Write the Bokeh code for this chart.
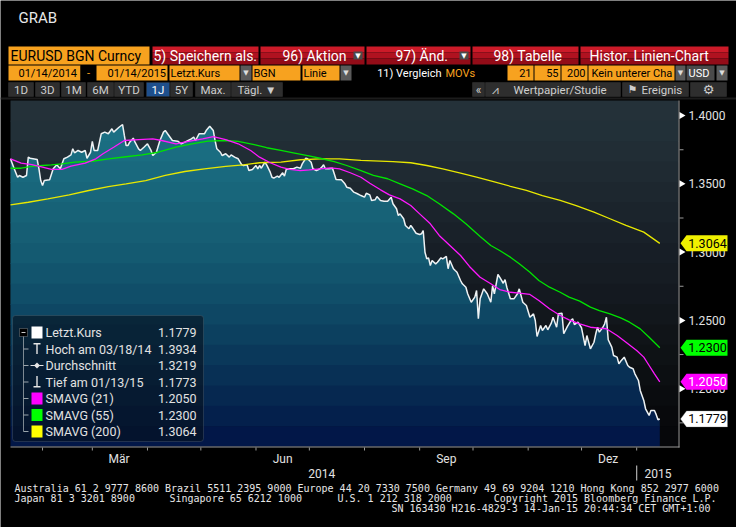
import numpy as np
from bokeh.plotting import figure
from bokeh.models import BoxAnnotation, Label, PolyAnnotation, Range1d
from bokeh.embed import file_html
from bokeh.resources import INLINE

# ---------------- data (days since 14 Jan 2014) ----------------
price_day = [0, 2, 4, 5, 7, 9, 10, 11, 15, 16, 17, 18, 19, 22, 24, 26, 28, 30, 32, 34, 35, 36, 38, 40, 42, 43,
             45, 46, 47, 49, 51, 53, 55, 57, 58, 61, 63, 64, 65, 66, 67, 69, 70, 72, 73, 75, 77, 79, 80, 82, 84,
             86, 87, 89, 91, 94, 96, 98, 101, 103, 104, 106, 109, 110, 112, 114, 115, 116, 118, 119, 121, 123,
             124, 126, 128, 130, 131, 133, 134, 136, 138, 139, 140, 141, 143, 144, 146, 147, 148, 150, 151, 153,
             154, 155, 157, 159, 161, 163, 164, 166, 167, 169, 170, 172, 174, 175, 176, 177, 179, 181, 182, 183,
             186, 188, 189, 191, 193, 195, 197, 199, 200, 202, 203, 205, 206, 208, 210, 212, 214, 215, 217, 218,
             219, 221, 222, 224, 225, 226, 228, 230, 231, 232, 233, 234, 235, 236, 237, 239, 240, 242, 243, 245,
             246, 247, 249, 250, 251, 253, 254, 256, 257, 259, 261, 262, 263, 264, 266, 268, 270, 271, 272, 274,
             275, 277, 278, 279, 281, 283, 285, 286, 288, 290, 292, 294, 295, 296, 298, 299, 301, 302, 304, 305,
             307, 308, 310, 311, 313, 315, 316, 317, 319, 321, 323, 324, 326, 328, 329, 330, 331, 333, 334, 335,
             336, 338, 339, 341, 342, 343, 345, 347, 348, 350, 351, 353, 354, 356, 357, 359, 360, 362, 363, 364, 365]
price = [1.3683, 1.3614, 1.3548, 1.3561, 1.3548, 1.3561, 1.3695, 1.3687, 1.3678, 1.3610, 1.3524, 1.3488, 1.3524,
         1.3529, 1.3610, 1.3639, 1.3610, 1.3683, 1.3695, 1.3712, 1.3756, 1.3727, 1.3744, 1.3731, 1.3744, 1.3687,
         1.3731, 1.3810, 1.3744, 1.3744, 1.3866, 1.3878, 1.3866, 1.3903, 1.3878, 1.3914, 1.3934, 1.3854, 1.3780,
         1.3780, 1.3805, 1.3834, 1.3805, 1.3756, 1.3744, 1.3768, 1.3793, 1.3744, 1.3707, 1.3731, 1.3817, 1.3878,
         1.3890, 1.3854, 1.3817, 1.3812, 1.3793, 1.3805, 1.3824, 1.3841, 1.3817, 1.3866, 1.3866, 1.3890, 1.3922,
         1.3890, 1.3817, 1.3756, 1.3731, 1.3707, 1.3720, 1.3695, 1.3712, 1.3695, 1.3683, 1.3639, 1.3634, 1.3639,
         1.3597, 1.3605, 1.3634, 1.3610, 1.3634, 1.3614, 1.3658, 1.3639, 1.3585, 1.3548, 1.3541, 1.3556, 1.3548,
         1.3581, 1.3556, 1.3605, 1.3610, 1.3610, 1.3622, 1.3614, 1.3646, 1.3687, 1.3683, 1.3658, 1.3610, 1.3597,
         1.3610, 1.3622, 1.3639, 1.3610, 1.3610, 1.3614, 1.3573, 1.3531, 1.3529, 1.3500, 1.3475, 1.3468, 1.3439,
         1.3427, 1.3414, 1.3402, 1.3431, 1.3419, 1.3378, 1.3383, 1.3407, 1.3378, 1.3373, 1.3373, 1.3402, 1.3354,
         1.3317, 1.3268, 1.3280, 1.3244, 1.3195, 1.3171, 1.3195, 1.3178, 1.3138, 1.3129, 1.3134, 1.3158, 1.2999,
         1.2951, 1.2958, 1.2902, 1.2939, 1.2914, 1.2926, 1.2958, 1.2951, 1.2968, 1.2878, 1.2939, 1.2878, 1.2865,
         1.2853, 1.2792, 1.2768, 1.2743, 1.2695, 1.2633, 1.2670, 1.2719, 1.2512, 1.2658, 1.2731, 1.2695, 1.2633,
         1.2755, 1.2695, 1.2836, 1.2816, 1.2772, 1.2799, 1.2743, 1.2658, 1.2658, 1.2695, 1.2731, 1.2633, 1.2609,
         1.2523, 1.2548, 1.2499, 1.2382, 1.2463, 1.2426, 1.2463, 1.2431, 1.2480, 1.2523, 1.2450, 1.2548, 1.2553,
         1.2402, 1.2455, 1.2499, 1.2512, 1.2470, 1.2487, 1.2446, 1.2316, 1.2389, 1.2292, 1.2340, 1.2402, 1.2450,
         1.2414, 1.2450, 1.2475, 1.2523, 1.2358, 1.2304, 1.2243, 1.2231, 1.2182, 1.2201, 1.2231, 1.2170, 1.2157,
         1.2146, 1.2109, 1.2060, 1.1987, 1.1914, 1.1853, 1.1804, 1.1840, 1.1840, 1.1810, 1.1773, 1.1779]

sma21_day = [0, 6, 12, 18, 23, 29, 34, 42, 48, 52, 58, 64, 72, 80, 85, 93, 100, 108, 114, 121, 128, 135, 140, 146,
             152, 157, 163, 168, 174, 180, 185, 191, 197, 202, 208, 213, 219, 225, 230, 236, 241, 247, 253, 258,
             264, 270, 275, 281, 286, 292, 297, 303, 309, 314, 320, 326, 331, 335, 341, 346, 352, 356, 359, 362, 365]
sma21 = [1.3683, 1.3651, 1.3641, 1.3622, 1.3605, 1.3605, 1.3629, 1.3651, 1.3683, 1.3720, 1.3768, 1.3817, 1.3824,
         1.3829, 1.3817, 1.3793, 1.3810, 1.3829, 1.3846, 1.3824, 1.3793, 1.3744, 1.3695, 1.3654, 1.3622, 1.3605,
         1.3597, 1.3602, 1.3610, 1.3617, 1.3610, 1.3581, 1.3548, 1.3504, 1.3456, 1.3419, 1.3390, 1.3341, 1.3280,
         1.3207, 1.3122, 1.3048, 1.2975, 1.2895, 1.2816, 1.2768, 1.2726, 1.2706, 1.2699, 1.2690, 1.2646, 1.2585,
         1.2536, 1.2504, 1.2475, 1.2450, 1.2443, 1.2439, 1.2390, 1.2340, 1.2280, 1.2231, 1.2170, 1.2109, 1.2050]

sma55_day = [0, 6, 12, 18, 23, 29, 36, 46, 55, 65, 74, 83, 93, 102, 111, 121, 128, 137, 144, 152, 159, 167, 174,
             182, 189, 197, 204, 212, 219, 226, 234, 241, 249, 256, 264, 270, 275, 281, 286, 292, 297, 303, 309,
             314, 320, 326, 331, 337, 343, 348, 354, 359, 365]
sma55 = [1.3614, 1.3614, 1.3627, 1.3634, 1.3639, 1.3646, 1.3658, 1.3665, 1.3683, 1.3698, 1.3712, 1.3731, 1.3768,
         1.3793, 1.3812, 1.3817, 1.3810, 1.3786, 1.3764, 1.3744, 1.3727, 1.3707, 1.3687, 1.3663, 1.3634, 1.3597,
         1.3561, 1.3537, 1.3500, 1.3463, 1.3414, 1.3354, 1.3280, 1.3207, 1.3114, 1.3048, 1.3012, 1.2963, 1.2914,
         1.2853, 1.2792, 1.2743, 1.2706, 1.2670, 1.2641, 1.2597, 1.2572, 1.2548, 1.2519, 1.2487, 1.2438, 1.2377,
         1.2300]

sma200_day = [0, 10, 21, 33, 44, 55, 65, 76, 87, 98, 109, 121, 131, 140, 152, 163, 174, 185, 197, 215, 225, 234,
              243, 253, 262, 271, 281, 290, 299, 309, 318, 328, 337, 346, 356, 365]
sma200 = [1.3346, 1.3365, 1.3390, 1.3419, 1.3451, 1.3480, 1.3500, 1.3524, 1.3561, 1.3590, 1.3610, 1.3627, 1.3639,
          1.3654, 1.3658, 1.3676, 1.3683, 1.3683, 1.3671, 1.3663, 1.3654, 1.3634, 1.3610, 1.3578, 1.3548, 1.3517,
          1.3482, 1.3451, 1.3414, 1.3378, 1.3341, 1.3292, 1.3244, 1.3195, 1.3146, 1.3064]

month_start_day = [18, 46, 77, 107, 138, 168, 199, 230, 260, 291, 321, 352]
month_label_day = [61, 153, 245, 336]
month_labels = ["Mär", "Jun", "Sep", "Dez"]
year_label_day = [175, 364]
year_labels = ["2014", "2015"]
year_break_day = [352]
y_ticks = [1.20, 1.25, 1.30, 1.35, 1.40]
y_minor_ticks = [1.175, 1.225, 1.275, 1.325, 1.375]

legend_names = ["Letzt.Kurs", "Hoch am 03/18/14", "Durchschnitt", "Tief am 01/13/15",
                "SMAVG (21)", "SMAVG (55)", "SMAVG (200)"]
legend_values = ["1.1779", "1.3934", "1.3219", "1.1773", "1.2050", "1.2300", "1.3064"]

assert len(price_day) == len(price)
assert len(sma21_day) == len(sma21)
assert len(sma55_day) == len(sma55)
assert len(sma200_day) == len(sma200)

# ---------------- styling / geometry ----------------
bg_colors = ["#243139", "#223038", "#212d35", "#1f2a32", "#1d272f", "#1b242c", "#192129", "#171e26",
             "#161c23", "#141920", "#12171c", "#101418", "#0e1215", "#0c0f12", "#0a0c0f", "#08090c", "#06070a"]
area_colors = ["#1c7185", "#1b6f83", "#1a6d81", "#19697e", "#18667b", "#176277", "#165e74", "#145a71",
               "#12546d", "#104e69", "#0e4764", "#0c405f", "#0a385a", "#083055", "#062850", "#04204c", "#021748"]
ORANGE = "#f7a21f"
TXT = "#e2e2e2"
FONT = "Roboto"
MONO = "DejaVu Sans Mono"

W, H = 736, 527
CL, CR, CT, CB = 10, 678, 100, 446      # chart box on the canvas (px)
PXD = 1.7789                            # px per day
PXU = 1366.0                            # px per price unit
REF_V, REF_Y = 1.40, 115                # price 1.40 sits at canvas y=115
X0 = -CL / PXD
X1 = X0 + W / PXD
Y1 = REF_V + REF_Y / PXU
Y0 = Y1 - H / PXU
YT = Y1 - CT / PXU                      # price at top of chart box
YB = Y1 - CB / PXU                      # price at bottom of chart box

p = figure(width=W, height=H, output_backend="svg", toolbar_location=None,
           x_range=Range1d(X0, X1), y_range=Range1d(Y0, Y1),
           x_axis_type=None, y_axis_type=None,
           min_border=0, min_border_left=0, min_border_right=0, min_border_top=0, min_border_bottom=0,
           background_fill_color="#000000", border_fill_color="#000000", outline_line_color=None)
p.grid.visible = False


def cbox(x0, y0, x1, y1, color, alpha=1.0, line=None, lw=1, radius=0, level="overlay"):
    b = BoxAnnotation(left=x0, right=x1, top=y0, bottom=y1,
                      left_units="canvas", right_units="canvas", top_units="canvas", bottom_units="canvas",
                      fill_color=color, fill_alpha=alpha, line_color=line, line_width=lw, level=level)
    if radius:
        b.border_radius = radius
    p.add_layout(b)


def ctext(x, y, s, color=TXT, size=12, align="left", font=FONT, xunits="canvas", yunits="canvas"):
    p.add_layout(Label(x=x, y=y, x_units=xunits, y_units=yunits, text=s, text_color=color,
                       text_font=font, text_font_size=f"{size}px", text_align=align,
                       text_baseline="middle", level="overlay"))


def cpoly(xs, ys, color, line=None, yunits="canvas"):
    p.add_layout(PolyAnnotation(xs=xs, ys=ys, xs_units="canvas", ys_units=yunits, fill_color=color,
                                fill_alpha=1, line_color=line, level="overlay"))


# banded chart background
n = len(bg_colors)
edges = np.linspace(YT, YB, n + 1)
ov = (YT - YB) * 0.002
for k in range(n):
    p.add_layout(BoxAnnotation(left=CL, right=CR, left_units="canvas", right_units="canvas",
                               top=edges[k], bottom=edges[k + 1] - (ov if k < n - 1 else 0),
                               fill_color=bg_colors[k], fill_alpha=1, line_color=None, level="underlay"))

# banded area under the price line (fine x grid only to render the fill faithfully)
px = np.array(price_day, dtype=float)
py = np.array(price)
gx = np.linspace(px[0], px[-1], 2921)
gy = np.interp(gx, px, py)
for k in range(n):
    t, b = edges[k], edges[k + 1]
    top = np.clip(gy, b, t)
    bot = np.where(gy > b, b - (ov if k < n - 1 else 0), b)
    p.varea(x=gx, y1=bot, y2=top, fill_color=area_colors[k], fill_alpha=1)

p.line(price_day, price, line_color="#eef2f4", line_width=1.5)
p.line(sma200_day, sma200, line_color="#e8e800", line_width=1.3)
p.line(sma55_day, sma55, line_color="#00e400", line_width=1.3)
p.line(sma21_day, sma21, line_color="#ff19ff", line_width=1.3)

# ---------------- axes (drawn on the canvas through the scales) ----------------
AX = "#9a9a9a"
cbox(0, 97, 736, 99, "#1c1c1c", level="guide")          # separator under the toolbar
cbox(CR, CT, CR + 1, CB + 1, AX, level="guide")         # right axis line
cbox(CL, CB, CR + 1, CB + 1, AX, level="guide")         # bottom axis line
for v in y_minor_ticks:
    p.add_layout(BoxAnnotation(left=CR + 1, right=CR + 5, left_units="canvas", right_units="canvas",
                               top=v + 0.5 / PXU, bottom=v - 0.5 / PXU, fill_color=AX, fill_alpha=1,
                               line_color=None, level="guide"))
for v in y_ticks:
    cpoly([CR + 1, CR + 7, CR + 1], [v + 3.5 / PXU, v, v - 3.5 / PXU], "#ffffff", yunits="data")
    ctext(CR + 10, v, f"{v:.4f}", size=12, yunits="data")
for d in month_start_day:
    p.add_layout(BoxAnnotation(left=d - 0.5 / PXD, right=d + 0.5 / PXD, top=CB + 1, bottom=CB + 4,
                               top_units="canvas", bottom_units="canvas", fill_color=AX, fill_alpha=1,
                               line_color=None, level="guide"))
for d, s in zip(month_label_day, month_labels):
    ctext(d, 458, s, size=12, align="center", xunits="data")
for d in year_break_day:
    p.add_layout(BoxAnnotation(left=d - 0.6 / PXD, right=d + 0.6 / PXD, top=465, bottom=480,
                               top_units="canvas", bottom_units="canvas", fill_color="#b0b0b0", fill_alpha=1,
                               line_color=None, level="guide"))
for d, s in zip(year_label_day, year_labels):
    ctext(d, 473, s, size=12, align="center", xunits="data")

# value tags on the right
tags = [(sma200[-1], "#f0f000", "#000000", None),
        (sma55[-1], "#00ff00", "#000000", None),
        (sma21[-1], "#ff00ff", "#ffffff", None),
        (price[-1], "#ffffff", "#000000", "#808080")]
for v, fill, tcol, lcol in tags:
    h = 8 / PXU
    cpoly([680, 686, 727, 727, 686], [v, v + h, v + h, v - h, v - h], fill, line=lcol, yunits="data")
    ctext(707, v, f"{v:.4f}", color=tcol, size=12.5, align="center", yunits="data")

# ---------------- legend box ----------------
cbox(12, 315, 203, 441, "#06101c", alpha=0.6, line="#6b7780", radius=3)
row_y = [332, 348.5, 365, 381.5, 398, 414.5, 431]
cbox(19, 328, 27, 336, "#000000", line="#c8c8c8")
cbox(21, 331.6, 25, 332.4, "#c8c8c8")
cbox(22.6, 336, 23.4, row_y[-1], "#9aa4ab")
for yy in row_y[1:]:
    cbox(23, yy - 0.4, 28, yy + 0.4, "#9aa4ab")
for col, i in [("#ffffff", 0), ("#ff00ff", 4), ("#00ff00", 5), ("#ffff00", 6)]:
    cbox(31, row_y[i] - 6, 42, row_y[i] + 6, col)
cbox(33, row_y[1] - 6, 40, row_y[1] - 4.6, "#e6e6e6")
cbox(35.8, row_y[1] - 6, 37.2, row_y[1] + 5, "#e6e6e6")
cbox(30, row_y[2] - 0.6, 43, row_y[2] + 0.6, "#e6e6e6")
cpoly([36.5, 39.5, 36.5, 33.5], [row_y[2] - 3, row_y[2], row_y[2] + 3, row_y[2]], "#e6e6e6")
cbox(35.8, row_y[3] - 6, 37.2, row_y[3] + 5, "#e6e6e6")
cbox(33, row_y[3] + 4, 40, row_y[3] + 5.4, "#e6e6e6")
for yy, name, val in zip(row_y, legend_names, legend_values):
    ctext(45, yy, name, size=12.5)
    ctext(196, yy, val, size=12.5, align="right")

# ---------------- header ----------------
ctext(18, 17, "GRAB", color="#e8e8e8", size=15)

cbox(8, 46, 149, 64, ORANGE)
ctext(10, 55, "EURUSD BGN Curncy", color="#000000", size=14)
for x0, x1 in [(152, 258), (260, 364), (366, 470), (472, 578), (580, 728)]:
    cbox(x0, 46, x1, 52, "#cc1a28")
    cbox(x0, 52, x1, 58, "#b01220")
    cbox(x0, 58, x1, 64, "#930c18")
ctext(153, 55, "5) Speichern als.", color="#ffffff", size=14)
ctext(282, 55, "96) Aktion", color="#ffffff", size=14)
ctext(395, 55, "97) Änd.", color="#ffffff", size=14)
ctext(493, 55, "98) Tabelle", color="#ffffff", size=14)
ctext(589, 55, "Histor. Linien-Chart", color="#ffffff", size=14)
for x0 in (353, 459):
    cbox(x0, 51, x0 + 9, 59, "#4a4a4a")
    ctext(x0 + 4.5, 55.5, "▼", color="#ffffff", size=7, align="center", font="DejaVu Sans")

row2 = [(8, 80, ORANGE), (80, 96, "#000000"), (96, 167, ORANGE), (169, 239, ORANGE), (240, 251, "#5a5a5a"),
        (252, 300, ORANGE), (302, 339, ORANGE), (340, 351, "#5a5a5a"), (507, 533, ORANGE),
        (534, 560, ORANGE), (561, 587, ORANGE), (588, 674, ORANGE), (675, 685, "#5a5a5a"),
        (686, 714, "#4a4a4a"), (716, 727, "#5a5a5a")]
for x0, x1, col in row2:
    cbox(x0, 65, x1, 80, col)
r2 = 72.5
ctext(18, r2, "01/14/2014", color="#000000", size=11)
ctext(88, r2, "-", color=ORANGE, size=11, align="center")
ctext(107, r2, "01/14/2015", color="#000000", size=11)
ctext(170, r2, "Letzt.Kurs", color="#000000", size=11)
ctext(253, r2, "BGN", color="#000000", size=11)
ctext(303, r2, "Linie", color="#000000", size=11)
ctext(441, r2, "11) Vergleich", color="#ffffff", size=11, align="right")
ctext(445, r2, "MOVs", color=ORANGE, size=11)
ctext(531, r2, "21", color="#000000", size=11, align="right")
ctext(558, r2, "55", color="#000000", size=11, align="right")
ctext(585, r2, "200", color="#000000", size=11, align="right")
ctext(591, r2, "Kein unterer Cha", color="#000000", size=11)
ctext(688, r2, "USD", color="#ffffff", size=11)
for xc in (245.5, 345.5, 680, 721.5):
    ctext(xc, r2, "▼", color="#dddddd", size=7, align="center", font="DejaVu Sans")

row3 = [(8, 33, "1D"), (35, 59, "3D"), (61, 85, "1M"), (87, 113, "6M"), (114, 143, "YTD"), (146, 169, "1J"),
        (170, 192, "5Y"), (195, 230, "Max."), (231, 282, "Tägl. ▼")]
for x0, x1, s in row3:
    hi = s == "1J"
    cbox(x0, 82, x1, 96, "#1e4f8c" if hi else "#2e2e2e", line="#474747")
    ctext((x0 + x1) / 2, 89, s, color="#ffffff" if hi else "#cfcfcf", size=11.5, align="center")
for x0, x1 in [(472, 484), (485, 620), (622, 688), (690, 726)]:
    cbox(x0, 82, x1, 96, "#2e2e2e", line="#474747")
ctext(478, 89, "«", color="#cfcfcf", size=12, align="center")
ctext(495, 89, "⩘", color="#cfcfcf", size=12, align="center", font="DejaVu Sans")
ctext(513, 89, "Wertpapier/Studie", color="#cfcfcf", size=11.5)
ctext(632, 89, "⚑", color="#cfcfcf", size=11, align="center", font="DejaVu Sans")
ctext(641, 89, "Ereignis", color="#cfcfcf", size=11.5)
ctext(708, 89, "⚙", color="#cfcfcf", size=13, align="center", font="DejaVu Sans")

# ---------------- footer ----------------
ctext(14, 487.7, "Australia 61 2 9777 8600 Brazil 5511 2395 9000 Europe 44 20 7330 7500 Germany 49 69 9204 1210 "
      "Hong Kong 852 2977 6000", color="#e6e6e6", size=10, font=MONO)
ctext(14, 497.7, "Japan 81 3 3201 8900", color="#e6e6e6", size=10, font=MONO)
ctext(169, 497.7, "Singapore 65 6212 1000", color="#e6e6e6", size=10, font=MONO)
ctext(337, 497.7, "U.S. 1 212 318 2000", color="#e6e6e6", size=10, font=MONO)
ctext(716, 497.7, "Copyright 2015 Bloomberg Finance L.P.", color="#e6e6e6", size=10, font=MONO, align="right")
ctext(716, 507.7, "SN 163430 H216-4829-3 14-Jan-15 20:44:34 CET  GMT+1:00", color="#e6e6e6", size=10,
      font=MONO, align="right")

open("out.html", "w").write(file_html(p, INLINE))
